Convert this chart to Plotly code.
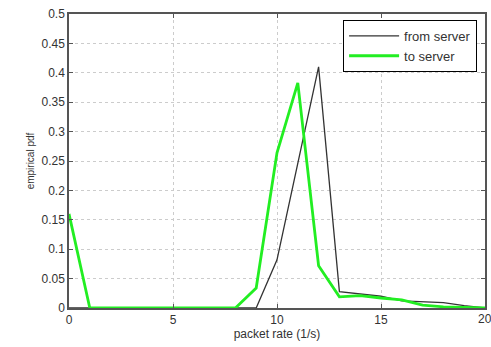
import plotly.graph_objects as go

x_vals = list(range(0, 21))
from_server = [0, 0, 0, 0, 0, 0, 0, 0, 0, 0, 0.082, 0.245, 0.41, 0.028, 0.024, 0.02, 0.012, 0.01, 0.009, 0.004, 0]
to_server = [0.16, 0, 0, 0, 0, 0, 0, 0, 0, 0.034, 0.264, 0.383, 0.072, 0.019, 0.021, 0.017, 0.014, 0.005, 0.002, 0.001, 0]
x_ticks = [0, 5, 10, 15, 20]
y_ticks = [0, 0.05, 0.1, 0.15, 0.2, 0.25, 0.3, 0.35, 0.4, 0.45, 0.5]
y_tick_labels = ["0", "0.05", "0.1", "0.15", "0.2", "0.25", "0.3", "0.35", "0.4", "0.45", "0.5"]

font_family = "Liberation Sans, Arial"

fig = go.Figure()
fig.add_trace(go.Scatter(x=x_vals, y=from_server, mode="lines", name="from server",
                         line=dict(color="#333333", width=1.3)))
fig.add_trace(go.Scatter(x=x_vals, y=to_server, mode="lines", name="to server",
                         line=dict(color="#22ee22", width=2.8)))

axis_common = dict(showline=True, linecolor="#555555", linewidth=1.5, mirror="allticks",
                   ticks="inside", ticklen=4, tickcolor="#555555",
                   showgrid=True, gridcolor="#cccccc", griddash="dot", gridwidth=1,
                   zeroline=False, tickfont=dict(family=font_family, size=12, color="#333"))

fig.update_xaxes(range=[0, 20], tickvals=x_ticks, title=dict(text="packet rate (1/s)", standoff=3,
                 font=dict(family=font_family, size=12, color="#333")), **axis_common)
fig.update_yaxes(range=[0, 0.5], tickvals=y_ticks, ticktext=y_tick_labels,
                 title=dict(text="empirical pdf", standoff=5,
                            font=dict(family=font_family, size=10, color="#333")), **axis_common)

# last x tick label (hidden by plotly because it overflows the page edge)
fig.add_annotation(x=x_ticks[-1], y=0, xref="x", yref="paper", text=str(x_ticks[-1]),
                   showarrow=False, yanchor="top", yshift=-2,
                   font=dict(family=font_family, size=12, color="#333"))

fig.update_layout(width=491, height=347, margin=dict(l=69, r=6, t=14, b=39, autoexpand=False),
                  plot_bgcolor="white", paper_bgcolor="white",
                  legend=dict(x=0.981, y=0.98, xanchor="right", yanchor="top",
                              bgcolor="white", bordercolor="black", borderwidth=1,
                              font=dict(family=font_family, size=13, color="#333"),
                              tracegroupgap=0, itemwidth=50))

fig.write_html("out.html")
